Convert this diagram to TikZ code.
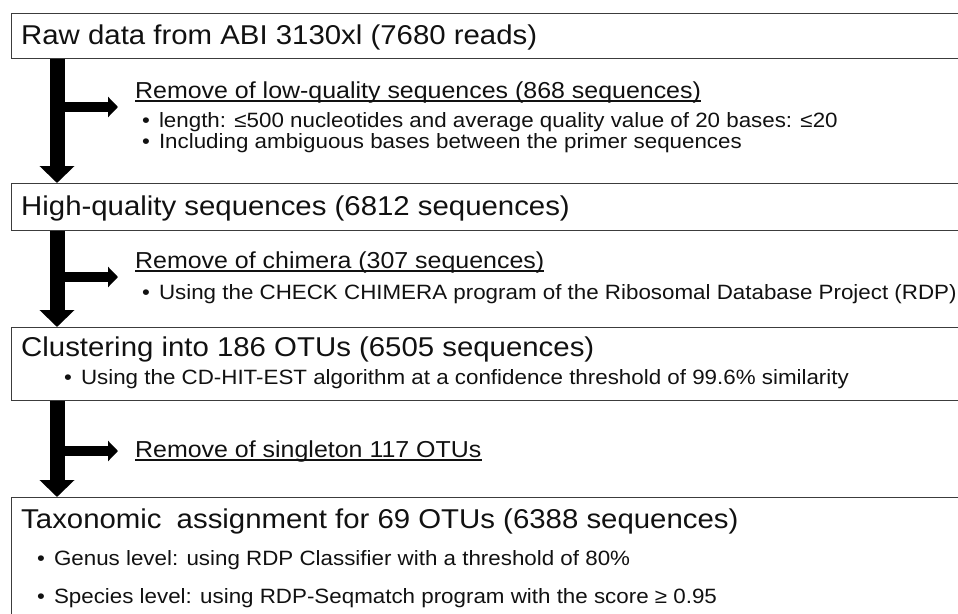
\documentclass[tikz,border=0pt]{standalone}
\usepackage{fontspec}
\setmainfont{Liberation Sans}[FakeStretch=1.08]
\usetikzlibrary{arrows.meta}
\definecolor{ink}{HTML}{111111}
\definecolor{boxline}{HTML}{3C3C3C}
\newcommand\fs[1]{\fontsize{#1}{#1}\selectfont}
\newcommand\bul{•\hspace{9pt}}
\begin{document}
\begin{tikzpicture}[x=1pt,y=-1pt,
  box/.style={draw=boxline, line width=1.3pt, anchor=north west, inner sep=0pt, minimum width=990pt},
  txt/.style={anchor=base west, inner sep=0pt, text=ink},
  head/.style={txt, font=\fs{27.2}},
  sub/.style={txt, font=\fs{23.1}},
  item/.style={txt, font=\fs{20.7}},
  flow/.style={draw=black, line width=15pt, -{Triangle[width=34pt,length=17pt]}},
  branch/.style={draw=black, line width=10pt, -{Triangle[width=20pt,length=10pt]}},
  uline/.style={draw=ink, line width=1.4pt}
]
\useasboundingbox (0,0) rectangle (958,613);

% stage boxes (open to the right and bottom)
\node[box, minimum height=45pt]  (b1) at (11,13)  {};
\node[box, minimum height=47pt]  (b2) at (11,183) {};
\node[box, minimum height=73pt]  (b3) at (11,327) {};
\node[box, minimum height=150pt] (b4) at (11,497) {};

% stage titles
\node[head] (h1) at (21,44)  {Raw data from ABI 3130xl (7680 reads)};
\node[head] (h2) at (21,215) {High-quality sequences (6812 sequences)};
\node[head] (h3) at (21,356) {Clustering into 186 OTUs (6505 sequences)};
\node[head] (h4) at (21,528) {Taxonomic\hspace{7pt} assignment for 69 OTUs (6388 sequences)};

% filtering steps
\node[sub] (r1) at (135,98)  {Remove of low-quality sequences (868 sequences)};
\node[sub] (r2) at (135,268) {Remove of chimera (307 sequences)};
\node[sub] (r3) at (135,457) {Remove of singleton 117 OTUs};
\foreach \r in {r1,r2,r3}
  \draw[uline] ([yshift=-3pt]\r.base west) -- ([yshift=-3pt]\r.base east);

% details
\node[item] (d1) at (142,127) {\bul length: ≤500 nucleotides and average quality value of 20 bases: ≤20};
\node[item] (d2) at (142,148) {\bul Including ambiguous bases between the primer sequences};
\node[item] (d3) at (142,299) {\bul Using the CHECK CHIMERA program of the Ribosomal Database Project (RDP)};
\node[item] (d4) at (64,384)  {\bul Using the CD-HIT-EST algorithm at a confidence threshold of 99.6\% similarity};
\node[item] (d5) at (37,565)  {\bul Genus level: using RDP Classifier with a threshold of 80\%};
\node[item] (d6) at (37,603)  {\bul Species level: using RDP-Seqmatch program with the score ≥ 0.95};

% flow arrows
\coordinate (spine) at (57,0);
\coordinate (t1) at (118,107);
\coordinate (t2) at (118,277);
\coordinate (t3) at (118,451);
\draw[flow] (b1.south -| spine) -- (b2.north -| spine);
\draw[flow] (b2.south -| spine) -- (b3.north -| spine);
\draw[flow] (b3.south -| spine) -- (b4.north -| spine);
\draw[branch] (spine |- t1) -- (t1);
\draw[branch] (spine |- t2) -- (t2);
\draw[branch] (spine |- t3) -- (t3);
\end{tikzpicture}
\end{document}
